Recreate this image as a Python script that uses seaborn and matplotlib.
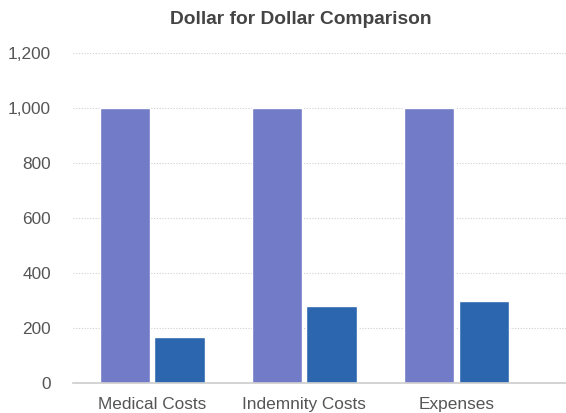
import pandas as pd
import matplotlib.pyplot as plt
import seaborn as sns

# Data
categories = ["Medical Costs", "Indemnity Costs", "Expenses"]
dollar_spent = [1000, 1000, 1000]
actual_cost = [167, 280, 298]
series_names = ["Dollar Spent", "Actual Cost"]

df = pd.DataFrame({
    "Category": categories * 2,
    "Value": dollar_spent + actual_cost,
    "Series": [series_names[0]] * 3 + [series_names[1]] * 3,
})

sns.set_theme(style="white")
plt.rcParams['font.family'] = ['Liberation Sans', 'DejaVu Sans']

fig = plt.figure(figsize=(5.66, 4.13), dpi=100)
ax = fig.add_axes([73 / 566, 30 / 413, 1 - 73 / 566, 330 / 413])

sns.barplot(data=df, x="Category", y="Value", hue="Series",
            palette=["#727BC8", "#2B66AE"], width=0.72, gap=0.08,
            legend=False, ax=ax, saturation=1)

ax.set_ylim(0, 1200)
ax.set_xlim(-0.52, 2.72)
ax.set_yticks(range(0, 1201, 200))
ax.set_yticklabels([f"{v:,}" for v in range(0, 1201, 200)])
ax.yaxis.grid(True, linestyle=(0, (1, 1.5)), color="#cfcfcf", linewidth=0.8)
ax.set_axisbelow(True)
ax.set_xlabel("")
ax.set_ylabel("")
for side in ["top", "right", "left"]:
    ax.spines[side].set_visible(False)
ax.spines["bottom"].set_color("#cccccc")
ax.spines["bottom"].set_linewidth(1.2)
ax.tick_params(axis="both", length=0, labelsize=12.4, colors="#555555")
ax.tick_params(axis="y", pad=16)
ax.tick_params(axis="x", pad=10)

fig.text(301 / 566, 1 - 20 / 413, "Dollar for Dollar Comparison",
         ha="center", va="center", fontsize=13.8, fontweight="bold", color="#444444")

fig.savefig("out.png", dpi=100)
